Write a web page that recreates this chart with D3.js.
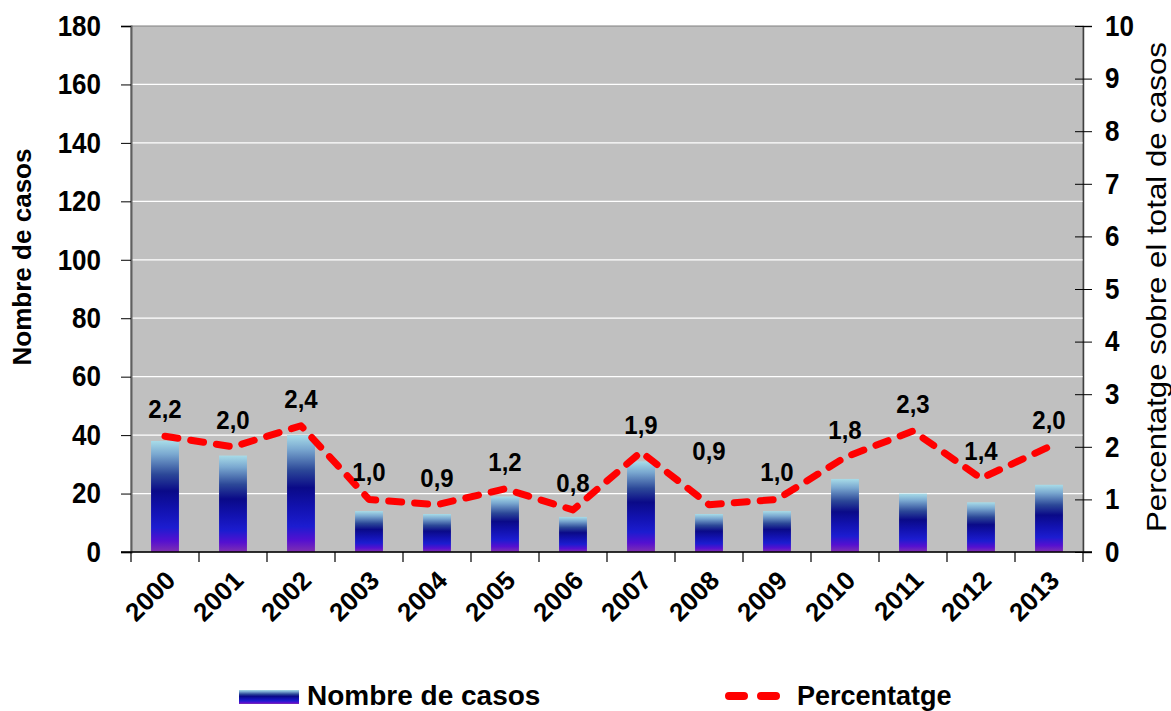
<!DOCTYPE html>
<html>
<head>
<meta charset="utf-8">
<script src="https://cdn.jsdelivr.net/npm/d3@7"></script>
<style>
  html, body { margin: 0; padding: 0; background: #fff; }
  svg { display: block; font-family: "Liberation Sans", Arial, sans-serif; }
</style>
</head>
<body>
<svg id="chart" width="1171" height="711"></svg>
<script>
// Cases per year and their share of the total (%)
const years = ["2000","2001","2002","2003","2004","2005","2006","2007","2008","2009","2010","2011","2012","2013"];
const cases = [38, 33, 40, 14, 13, 19, 12, 31, 13, 14, 25, 20, 17, 23];
const percent = [2.2, 2.0, 2.4, 1.0, 0.9, 1.2, 0.8, 1.9, 0.9, 1.0, 1.8, 2.3, 1.4, 2.0];
const leftTicks = [0, 20, 40, 60, 80, 100, 120, 140, 160, 180];
const rightTicks = [0, 1, 2, 3, 4, 5, 6, 7, 8, 9, 10];

const svg = d3.select("#chart");
const plot = { left: 131, right: 1083, top: 26, bottom: 552 };

const x = d3.scaleBand().domain(years)
  .range([plot.left, plot.right]).paddingInner(0.59).paddingOuter(0.295);
const yL = d3.scaleLinear().domain([0, 180]).range([plot.bottom, plot.top]);
const yR = d3.scaleLinear().domain([0, 10]).range([plot.bottom, plot.top]);
const cx = d => x(d) + x.bandwidth() / 2;

// Bar gradient (light cyan -> navy -> blue -> violet)
const defs = svg.append("defs");
const grad = defs.append("linearGradient").attr("id", "barGrad")
  .attr("x1", 0).attr("y1", 0).attr("x2", 0).attr("y2", 1);
[[0, "#a8dce8"], [0.12, "#7aa8d0"], [0.3, "#2c4898"], [0.45, "#0a0a88"],
 [0.62, "#1212b0"], [0.78, "#1c1cd0"], [0.9, "#5410d0"], [1, "#8030b0"]]
  .forEach(([o, c]) => grad.append("stop").attr("offset", o).attr("stop-color", c));

// Plot background
svg.append("rect")
  .attr("x", plot.left).attr("y", plot.top)
  .attr("width", plot.right - plot.left).attr("height", plot.bottom - plot.top)
  .attr("fill", "#c0c0c0").attr("stroke", "#808080").attr("stroke-width", 1);

// Horizontal gridlines
svg.append("g").selectAll("line")
  .data(leftTicks.filter(t => t > 0 && t < 180))
  .join("line")
  .attr("x1", plot.left).attr("x2", plot.right)
  .attr("y1", d => yL(d)).attr("y2", d => yL(d))
  .attr("stroke", "#ffffff").attr("stroke-width", 1.2);

// Bars
svg.append("g").selectAll("rect")
  .data(years)
  .join("rect")
  .attr("x", d => x(d))
  .attr("width", x.bandwidth())
  .attr("y", (d, i) => yL(cases[i]))
  .attr("height", (d, i) => yL(0) - yL(cases[i]))
  .attr("fill", "url(#barGrad)");

// Left axis
const axL = svg.append("g").attr("transform", `translate(${plot.left},0)`)
  .call(d3.axisLeft(yL).tickValues(leftTicks).tickSize(10).tickPadding(20));
axL.select(".domain").attr("stroke", "#606060").attr("stroke-width", 2);
axL.selectAll(".tick line").attr("stroke", "#000");
axL.selectAll("text").attr("font-size", 26).attr("font-weight", "bold")
  .attr("fill", "#000").attr("font-family", "Liberation Sans, Arial, sans-serif")
  .attr("transform", "scale(1,1.12)");

// Right axis with crossing ticks
const axR = svg.append("g").attr("transform", `translate(${plot.right},0)`)
  .call(d3.axisRight(yR).tickValues(rightTicks).tickSize(9).tickPadding(13));
axR.select(".domain").attr("stroke", "#404040").attr("stroke-width", 1.5);
axR.selectAll(".tick line").attr("x1", -8).attr("stroke", "#000");
axR.selectAll("text").attr("font-size", 26).attr("font-weight", "bold")
  .attr("fill", "#000").attr("font-family", "Liberation Sans, Arial, sans-serif")
  .attr("transform", "scale(1,1.12)");

// Bottom axis: ticks between categories
const bottom = svg.append("g");
bottom.append("line")
  .attr("x1", plot.left - 10).attr("x2", plot.right + 9)
  .attr("y1", plot.bottom).attr("y2", plot.bottom)
  .attr("stroke", "#000").attr("stroke-width", 1.5);
bottom.selectAll("line.tk")
  .data(d3.range(years.length + 1))
  .join("line").attr("class", "tk")
  .attr("x1", i => plot.left + i * x.step()).attr("x2", i => plot.left + i * x.step())
  .attr("y1", plot.bottom).attr("y2", plot.bottom + 10)
  .attr("stroke", "#000").attr("stroke-width", 1.2);
bottom.selectAll("text")
  .data(years)
  .join("text")
  .attr("transform", d => `translate(${cx(d) + 12},${plot.bottom + 30}) rotate(-45)`)
  .attr("text-anchor", "end")
  .attr("font-size", 26).attr("font-weight", "bold").attr("fill", "#000")
  .text(d => d);

// Percentage line
const line = d3.line().x((d, i) => cx(years[i])).y(d => yR(d));
svg.append("path")
  .datum(percent)
  .attr("d", line)
  .attr("fill", "none")
  .attr("stroke", "#ff0000")
  .attr("stroke-width", 7)
  .attr("stroke-linecap", "round")
  .attr("stroke-linejoin", "round")
  .attr("stroke-dasharray", "13,13");

// Value labels above the line (2008 label sits higher)
const labelLift = { "2008": 27 };
svg.append("g").selectAll("text")
  .data(percent)
  .join("text")
  .attr("transform", (d, i) =>
    `translate(${cx(years[i])},${yR(d) - 18 - (labelLift[years[i]] || 0)}) scale(1,1.1)`)
  .attr("text-anchor", "middle")
  .attr("font-size", 24).attr("font-weight", "bold").attr("fill", "#000")
  .text(d => d3.format(".1f")(d).replace(".", ","));

// Axis titles
svg.append("text")
  .attr("transform", "translate(31,257) rotate(-90)")
  .attr("text-anchor", "middle")
  .attr("font-size", 25).attr("font-weight", "bold").attr("fill", "#000")
  .attr("textLength", 217).attr("lengthAdjust", "spacingAndGlyphs")
  .text("Nombre de casos");
svg.append("text")
  .attr("transform", "translate(1166,287) rotate(-90)")
  .attr("text-anchor", "middle")
  .attr("font-size", 28).attr("fill", "#000")
  .attr("textLength", 490).attr("lengthAdjust", "spacingAndGlyphs")
  .text("Percentatge sobre el total de casos");

// Legend
const lg = svg.append("g");
lg.append("rect").attr("x", 239).attr("y", 690).attr("width", 60).attr("height", 14)
  .attr("fill", "url(#barGrad)");
lg.append("text").attr("x", 307).attr("y", 705)
  .attr("font-size", 28).attr("font-weight", "bold").attr("fill", "#000")
  .text("Nombre de casos");
lg.append("line").attr("x1", 729).attr("x2", 778).attr("y1", 696).attr("y2", 696)
  .attr("stroke", "#ff0000").attr("stroke-width", 8).attr("stroke-linecap", "round")
  .attr("stroke-dasharray", "15,17");
lg.append("text").attr("x", 797).attr("y", 705)
  .attr("font-size", 27).attr("font-weight", "bold").attr("fill", "#000")
  .text("Percentatge");
</script>
</body>
</html>
